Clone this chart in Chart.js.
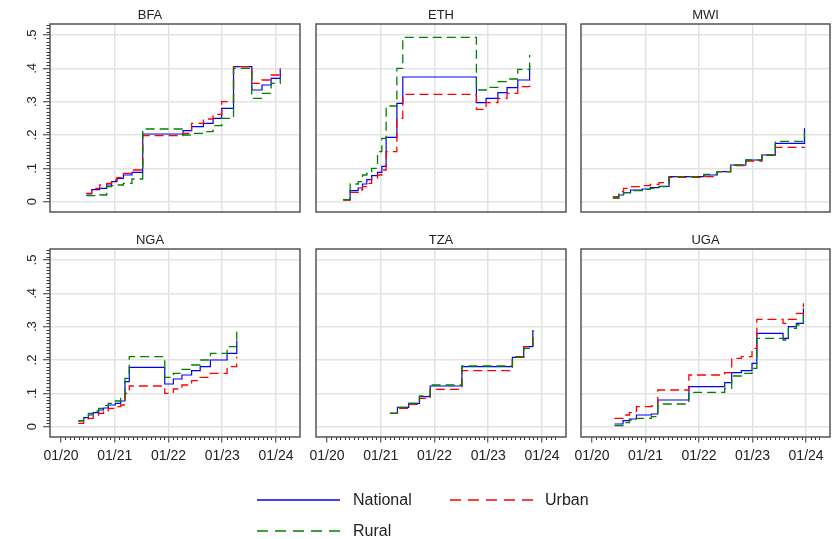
<!DOCTYPE html>
<html>
<head>
<meta charset="utf-8">
<script src="https://cdn.jsdelivr.net/npm/chart.js@4.4.1/dist/chart.umd.min.js"></script>
<style>
body { margin: 0; background: #fff; width: 833px; height: 539px; overflow: hidden; position: relative;
       font-family: "Liberation Sans", Arial, sans-serif; }
canvas { position: absolute; }
svg { position: absolute; }
.leg { position: absolute; font-size: 16px; line-height: 20px; color: #222; white-space: nowrap; }
</style>
</head>
<body>
<canvas id="c0" width="302" height="214" style="left:0px;top:0px"></canvas>
<canvas id="c1" width="272" height="214" style="left:296px;top:0px"></canvas>
<canvas id="c2" width="271" height="214" style="left:561px;top:0px"></canvas>
<canvas id="c3" width="302" height="247" style="left:0px;top:225px"></canvas>
<canvas id="c4" width="272" height="247" style="left:296px;top:225px"></canvas>
<canvas id="c5" width="271" height="247" style="left:561px;top:225px"></canvas>

<svg width="833" height="60" style="left:0px;top:480px">
  <line x1="257" y1="20" x2="340" y2="20" stroke="#0000ff" stroke-width="1.3"/>
  <line x1="450" y1="20" x2="533" y2="20" stroke="#ff0000" stroke-width="1.3" stroke-dasharray="11 7"/>
  <line x1="257" y1="51" x2="340" y2="51" stroke="#008000" stroke-width="1.3" stroke-dasharray="11 7"/>
</svg>
<div class="leg" style="left:353px;top:490px">National</div>
<div class="leg" style="left:545px;top:490px">Urban</div>
<div class="leg" style="left:353px;top:521px">Rural</div>

<script>
var countries = ['BFA', 'ETH', 'MWI', 'NGA', 'TZA', 'UGA']
var seriesNames = ['National', 'Urban', 'Rural']
var xTickValues = [2020, 2021, 2022, 2023, 2024]
var xTickLabels = ['01/20', '01/21', '01/22', '01/23', '01/24']
var yTickValues = [0, 0.1, 0.2, 0.3, 0.4, 0.5]
var yTickLabels = ['0', '.1', '.2', '.3', '.4', '.5']

// survey rounds (decimal years) and shares
var bfaDates    = [2020.47, 2020.57, 2020.72, 2020.85, 2020.94, 2021.04, 2021.16, 2021.32, 2021.52, 2022.27, 2022.43, 2022.65, 2022.83, 2022.99, 2023.21, 2023.55, 2023.74, 2023.91, 2024.08]
var bfaNational = [0.023, 0.036, 0.040, 0.050, 0.060, 0.070, 0.080, 0.088, 0.203, 0.213, 0.225, 0.235, 0.250, 0.280, 0.405, 0.335, 0.350, 0.370, 0.395]
var bfaUrban    = [0.025, 0.040, 0.050, 0.055, 0.065, 0.072, 0.085, 0.095, 0.198, 0.205, 0.235, 0.248, 0.262, 0.300, 0.405, 0.355, 0.365, 0.380, 0.400]
var bfaRural    = [0.018, 0.018, 0.020, 0.045, 0.048, 0.050, 0.055, 0.068, 0.218, 0.200, 0.205, 0.210, 0.228, 0.250, 0.400, 0.310, 0.325, 0.355, 0.370]

var ethDates    = [2020.30, 2020.43, 2020.58, 2020.66, 2020.74, 2020.83, 2020.94, 2021.02, 2021.10, 2021.30, 2021.41, 2022.78, 2022.96, 2023.18, 2023.35, 2023.55, 2023.77]
var ethNational = [0.006, 0.033, 0.041, 0.053, 0.066, 0.078, 0.088, 0.106, 0.193, 0.295, 0.374, 0.297, 0.310, 0.327, 0.342, 0.365, 0.410]
var ethUrban    = [0.005, 0.028, 0.035, 0.045, 0.055, 0.070, 0.080, 0.095, 0.150, 0.250, 0.322, 0.277, 0.297, 0.310, 0.325, 0.345, 0.365]
var ethRural    = [0.006, 0.053, 0.060, 0.080, 0.085, 0.100, 0.150, 0.190, 0.287, 0.400, 0.493, 0.335, 0.343, 0.360, 0.368, 0.397, 0.440]

var mwiDates    = [2020.39, 2020.50, 2020.59, 2020.72, 2020.94, 2021.09, 2021.25, 2021.44, 2022.09, 2022.34, 2022.59, 2022.875, 2023.175, 2023.425, 2023.97]
var mwiNational = [0.011, 0.020, 0.027, 0.035, 0.038, 0.042, 0.046, 0.075, 0.080, 0.090, 0.110, 0.125, 0.140, 0.175, 0.220]
var mwiUrban    = [0.015, 0.030, 0.040, 0.045, 0.048, 0.052, 0.057, 0.073, 0.075, 0.090, 0.108, 0.122, 0.140, 0.163, 0.165]
var mwiRural    = [0.011, 0.020, 0.027, 0.033, 0.037, 0.040, 0.045, 0.075, 0.082, 0.090, 0.110, 0.125, 0.140, 0.181, 0.210]

var ngaDates    = [2020.32, 2020.42, 2020.51, 2020.60, 2020.70, 2020.79, 2020.88, 2021.01, 2021.11, 2021.19, 2021.27, 2021.93, 2022.09, 2022.25, 2022.43, 2022.59, 2022.78, 2023.09, 2023.27]
var ngaNational = [0.017, 0.027, 0.035, 0.042, 0.050, 0.056, 0.065, 0.070, 0.077, 0.135, 0.178, 0.128, 0.143, 0.155, 0.168, 0.180, 0.200, 0.220, 0.258]
var ngaUrban    = [0.010, 0.020, 0.025, 0.035, 0.040, 0.045, 0.055, 0.060, 0.065, 0.100, 0.122, 0.100, 0.113, 0.125, 0.138, 0.148, 0.160, 0.180, 0.210]
var ngaRural    = [0.018, 0.030, 0.040, 0.047, 0.055, 0.063, 0.070, 0.077, 0.085, 0.145, 0.210, 0.148, 0.160, 0.172, 0.185, 0.200, 0.220, 0.240, 0.285]

var tzaDates    = [2021.17, 2021.31, 2021.52, 2021.72, 2021.92, 2022.51, 2023.45, 2023.66, 2023.83]
var tzaNational = [0.040, 0.058, 0.070, 0.090, 0.122, 0.180, 0.208, 0.240, 0.290]
var tzaUrban    = [0.040, 0.055, 0.067, 0.085, 0.112, 0.168, 0.208, 0.240, 0.280]
var tzaRural    = [0.040, 0.058, 0.070, 0.092, 0.125, 0.182, 0.210, 0.235, 0.290]

var ugaDates    = [2020.42, 2020.58, 2020.70, 2020.83, 2021.11, 2021.23, 2021.81, 2022.48, 2022.61, 2022.79, 2022.99, 2023.08, 2023.57, 2023.67, 2023.82, 2023.95]
var ugaNational = [0.008, 0.018, 0.023, 0.035, 0.038, 0.080, 0.120, 0.132, 0.162, 0.168, 0.190, 0.280, 0.265, 0.300, 0.310, 0.355]
var ugaUrban    = [0.025, 0.035, 0.042, 0.060, 0.062, 0.110, 0.155, 0.162, 0.205, 0.210, 0.235, 0.322, 0.310, 0.322, 0.340, 0.370]
var ugaRural    = [0.003, 0.012, 0.020, 0.025, 0.030, 0.068, 0.103, 0.115, 0.152, 0.160, 0.175, 0.265, 0.260, 0.295, 0.305, 0.340]

var panels = {
  BFA: { dates: bfaDates, National: bfaNational, Urban: bfaUrban, Rural: bfaRural },
  ETH: { dates: ethDates, National: ethNational, Urban: ethUrban, Rural: ethRural },
  MWI: { dates: mwiDates, National: mwiNational, Urban: mwiUrban, Rural: mwiRural },
  NGA: { dates: ngaDates, National: ngaNational, Urban: ngaUrban, Rural: ngaRural },
  TZA: { dates: tzaDates, National: tzaNational, Urban: tzaUrban, Rural: tzaRural },
  UGA: { dates: ugaDates, National: ugaNational, Urban: ugaUrban, Rural: ugaRural }
}

var lineStyle = {
  National: { color: '#0000ff', dash: [], width: 1.2 },
  Urban:    { color: '#ff0000', dash: [9, 5], width: 1.3 },
  Rural:    { color: '#008000', dash: [9, 5], width: 1.3 }
}

var FONT = '"Liberation Sans", Arial, sans-serif'
var GRID = '#e3e3e3'

// box round the plot plus the small monthly / 0.01 ticks
var framePlugin = {
  id: 'frame',
  afterDraw: function(chart, args, opts) {
    var ctx = chart.ctx, a = chart.chartArea, sx = chart.scales.x, sy = chart.scales.y
    ctx.save()
    ctx.strokeStyle = '#333'
    ctx.lineWidth = 1
    ctx.beginPath()
    if (opts.yMinor) {
      for (var k = 1; k <= 53; k++) {
        if (k % 10 === 0) continue
        var py = Math.round(sy.getPixelForValue(k / 100)) + 0.5
        ctx.moveTo(a.left - 3.5, py)
        ctx.lineTo(a.left, py)
      }
    }
    if (opts.xMinor) {
      for (var m = 1; m <= 51; m++) {
        if (m % 12 === 0) continue
        var px = Math.round(sx.getPixelForValue(2020 + m / 12)) + 0.5
        ctx.moveTo(px, a.bottom)
        ctx.lineTo(px, a.bottom + 3)
      }
    }
    ctx.stroke()
    ctx.strokeStyle = '#555'
    ctx.lineWidth = 1.5
    ctx.strokeRect(a.left, a.top, a.right - a.left, a.bottom - a.top)
    ctx.restore()
  }
}

function makeChart(idx) {
  var code = countries[idx]
  var row = Math.floor(idx / 3), col = idx % 3
  var p = panels[code]
  var datasets = seriesNames.map(function(name, i) {
    return {
      label: name,
      data: p.dates.map(function(d, j) { return { x: d, y: p[name][j] } }),
      borderColor: lineStyle[name].color,
      borderWidth: lineStyle[name].width,
      borderDash: lineStyle[name].dash,
      stepped: true,
      pointRadius: 0,
      fill: false,
      order: 2 - i
    }
  })

  return new Chart(document.getElementById('c' + idx), {
    type: 'line',
    data: { datasets: datasets },
    options: {
      responsive: false,
      animation: false,
      layout: { padding: { left: col ? 20 : 0, right: 2, top: 0, bottom: row ? 0 : 2 } },
      plugins: {
        legend: { display: false },
        tooltip: { enabled: false },
        title: {
          display: true, text: code, color: '#222',
          font: { family: FONT, size: 13, weight: 'normal', lineHeight: 1 },
          padding: { top: 9, bottom: 2 }
        },
        frame: { yMinor: col === 0, xMinor: row === 1 }
      },
      scales: {
        x: {
          type: 'linear', min: 2019.795, max: 2024.447,
          afterBuildTicks: function(s) { s.ticks = xTickValues.map(function(v) { return { value: v } }) },
          afterFit: function(s) { s.height = row ? 35 : 0; s.paddingLeft = 0; s.paddingRight = 0 },
          border: { display: false },
          grid: {
            color: function(c) { return c.tick && c.tick.value === 2020 ? 'rgba(0,0,0,0)' : GRID },
            lineWidth: 1.5, drawTicks: row === 1, tickLength: 5.5, tickColor: '#333', tickWidth: 1
          },
          ticks: {
            display: row === 1, autoSkip: false, maxRotation: 0, padding: 5, color: '#222',
            font: { family: FONT, size: 14 },
            callback: function(v, i) { return xTickLabels[i] }
          }
        },
        y: {
          type: 'linear', min: -0.031, max: 0.533,
          afterBuildTicks: function(s) { s.ticks = yTickValues.map(function(v) { return { value: v } }) },
          afterFit: function(s) { s.width = col ? 0 : 50; s.paddingTop = 0; s.paddingBottom = 0 },
          border: { display: false },
          grid: { color: GRID, lineWidth: 1.5, drawTicks: col === 0, tickLength: 7, tickColor: '#333', tickWidth: 1 },
          ticks: {
            display: col === 0, autoSkip: false, minRotation: 90, maxRotation: 90,
            crossAlign: 'center', padding: 5.6, color: '#222',
            font: { family: FONT, size: 13 },
            callback: function(v, i) { return yTickLabels[i] }
          }
        }
      }
    },
    plugins: [framePlugin]
  })
}

for (var i = 0; i < countries.length; i++) makeChart(i)
</script>
</body>
</html>
